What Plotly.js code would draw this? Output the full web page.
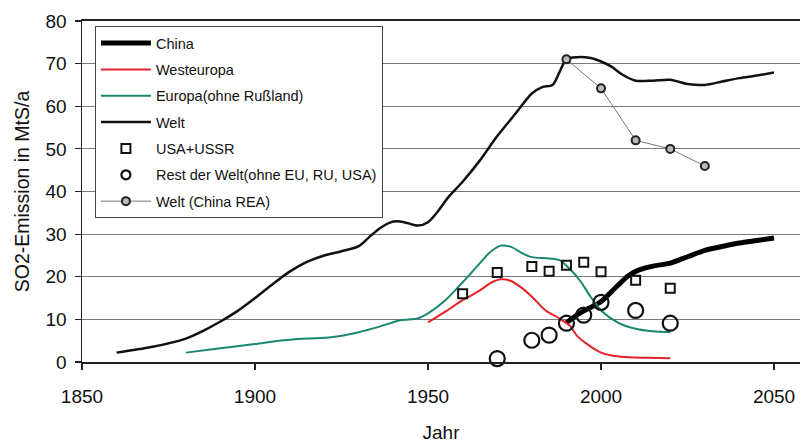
<!DOCTYPE html>
<html>
<head>
<meta charset="utf-8">
<script src="https://cdn.plot.ly/plotly-3.0.1.min.js"></script>
<style>html,body{margin:0;padding:0;background:#fff;}#chart{width:802px;height:445px;}</style>
</head>
<body>
<div id="chart"></div>
<script>
// China
var chinaYears = [1990, 1994, 2000, 2004, 2008, 2011, 2015, 2020, 2025, 2030, 2035, 2040, 2045, 2050];
var chinaValues = [9.2, 11.5, 14.2, 17.3, 20.3, 21.6, 22.5, 23.2, 24.7, 26.2, 27.1, 27.9, 28.5, 29.1];
// Westeuropa
var westYears = [1950, 1955, 1960, 1965, 1968, 1971, 1974, 1978, 1981, 1984, 1988, 1991, 1993, 1996, 2000, 2004, 2008, 2014, 2020];
var westValues = [9.3, 11.8, 14.5, 16.8, 18.5, 19.4, 19.0, 16.8, 14.5, 12.1, 10.2, 8.5, 6.2, 4.2, 2.2, 1.4, 1.1, 1.0, 0.9];
// Europa (ohne Russland)
var europaYears = [1880, 1890, 1900, 1907, 1915, 1922, 1930, 1936, 1942, 1947, 1950, 1955, 1960, 1965, 1968, 1971, 1974, 1977, 1980, 1985, 1988, 1991, 1994, 1997, 2000, 2005, 2010, 2015, 2020];
var europaValues = [2.2, 3.2, 4.2, 5.0, 5.5, 5.8, 7.0, 8.3, 9.8, 10.2, 11.4, 14.5, 18.7, 23.2, 25.8, 27.3, 27.0, 25.6, 24.6, 24.3, 23.9, 21.8, 19.0, 15.3, 12.1, 9.2, 7.8, 7.2, 7.0];
// Welt
var weltYears = [1860, 1870, 1880, 1885, 1890, 1895, 1900, 1905, 1910, 1915, 1920, 1925, 1930, 1933, 1936, 1939, 1941, 1944, 1947, 1950, 1953, 1956, 1960, 1965, 1970, 1975, 1980, 1983, 1986, 1988, 1990, 1993, 1997, 2000, 2003, 2006, 2010, 2015, 2020, 2025, 2030, 2035, 2040, 2045, 2050];
var weltValues = [2.2, 3.5, 5.5, 7.3, 9.5, 12.0, 15.0, 18.2, 21.2, 23.5, 25.0, 26.0, 27.2, 29.3, 31.3, 32.7, 33.0, 32.6, 32.0, 32.8, 35.5, 38.8, 42.3, 47.3, 53.0, 58.0, 63.0, 64.5, 65.0, 68.0, 71.0, 71.5, 71.3, 70.5, 69.3, 67.5, 66.0, 66.0, 66.2, 65.2, 65.0, 65.8, 66.6, 67.2, 67.9];
// USA+USSR
var usaYears = [1960, 1970, 1980, 1985, 1990, 1995, 2000, 2010, 2020];
var usaValues = [16.0, 21.0, 22.4, 21.3, 22.7, 23.4, 21.2, 19.2, 17.3];
// Rest der Welt
var restYears = [1970, 1980, 1985, 1990, 1995, 2000, 2010, 2020];
var restValues = [0.8, 5.1, 6.3, 9.1, 11.0, 14.0, 12.1, 9.1];
// Welt (China REA)
var reaYears = [1990, 2000, 2010, 2020, 2030];
var reaValues = [71.0, 64.2, 52.0, 50.0, 46.0];

var xTicks = [1850, 1900, 1950, 2000, 2050];
var yTicks = [0, 10, 20, 30, 40, 50, 60, 70, 80];

var traces = [
  {x: chinaYears, y: chinaValues, name: 'China', mode: 'lines', legendgroup: 'a',
   line: {color: '#000', width: 5, shape: 'spline', smoothing: 0.8}},
  {x: westYears, y: westValues, name: 'Westeuropa', mode: 'lines', legendgroup: 'b',
   line: {color: '#e3222b', width: 2, shape: 'spline', smoothing: 0.8}},
  {x: europaYears, y: europaValues, name: 'Europa(ohne Rußland)', mode: 'lines', legendgroup: 'c',
   line: {color: '#17876e', width: 2, shape: 'spline', smoothing: 0.8}},
  {x: weltYears, y: weltValues, name: 'Welt', mode: 'lines', legendgroup: 'd',
   line: {color: '#111', width: 2.5, shape: 'spline', smoothing: 0.8}},
  {x: usaYears, y: usaValues, name: 'USA+USSR', mode: 'markers', legendgroup: 'e', cliponaxis: false,
   marker: {symbol: 'square-open', size: 9, color: '#111', line: {width: 2}}},
  {x: restYears, y: restValues, name: 'Rest der Welt(ohne EU, RU, USA)', mode: 'markers', legendgroup: 'f', cliponaxis: false,
   showlegend: false,
   marker: {symbol: 'circle-open', size: 15, color: '#111', line: {width: 2.2}}},
  // legend-only entry (smaller symbol, as in the original legend)
  {x: [null], y: [null], name: 'Rest der Welt(ohne EU, RU, USA)', mode: 'markers', legendgroup: 'f',
   marker: {symbol: 'circle-open', size: 9, color: '#111', line: {width: 2.2}}},
  {x: reaYears, y: reaValues, name: 'Welt (China REA)', mode: 'lines+markers', legendgroup: 'g', cliponaxis: false,
   line: {color: '#777', width: 1},
   marker: {symbol: 'circle', size: 8, color: '#bbb', line: {color: '#222', width: 2}}}
];

var layout = {
  width: 802, height: 445,
  margin: {l: 82, r: 2, t: 21, b: 83},
  paper_bgcolor: '#fff', plot_bgcolor: '#fff',
  font: {family: 'Liberation Sans, Arial, sans-serif', color: '#111'},
  showlegend: true,
  legend: {
    x: 0.018, y: 0.985, xanchor: 'left', yanchor: 'top',
    bgcolor: '#fff', bordercolor: '#444', borderwidth: 1,
    font: {size: 14.5, color: '#111'},
    traceorder: 'grouped', tracegroupgap: 4.5, itemwidth: 50
  },
  xaxis: {
    range: [1850, 2057.5], tickvals: xTicks, ticktext: xTicks.map(String),
    ticks: 'outside', ticklen: 6, tickcolor: '#222', tickwidth: 1.2,
    showline: true, linecolor: '#222', linewidth: 2, mirror: true,
    showgrid: false, zeroline: false,
    tickfont: {size: 19}, ticklabelstandoff: 10,
    title: {text: 'Jahr', font: {size: 19}, standoff: 20}
  },
  yaxis: {
    range: [0, 80], tickvals: yTicks, ticktext: yTicks.map(String),
    ticks: 'outside', ticklen: 6, tickcolor: '#222', tickwidth: 1.2,
    showline: true, linecolor: '#222', linewidth: 1.5,
    showgrid: true, gridcolor: '#7a7a7a', gridwidth: 1, zeroline: false,
    tickfont: {size: 19}, ticklabelstandoff: 4,
    title: {text: 'SO2-Emission in MtS/a', font: {size: 19.5}, standoff: 10}
  }
};

Plotly.newPlot('chart', traces, layout, {displayModeBar: false, staticPlot: true});
</script>
</body>
</html>
